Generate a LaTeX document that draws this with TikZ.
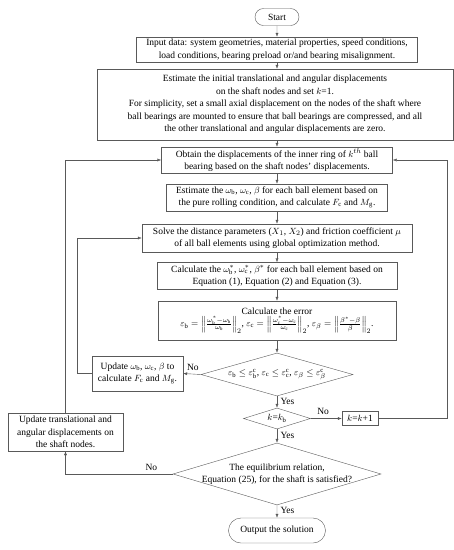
\documentclass[tikz,border=0pt]{standalone}
\usepackage{fontspec}
\setmainfont{Liberation Serif}
\usepackage{amsmath}
\usetikzlibrary{shapes.geometric,shapes.misc,arrows.meta}

\begin{document}
\begin{tikzpicture}[x=1pt, y=-1pt, font=\fontsize{9.5pt}{12.5pt}\selectfont, >={Latex[length=4pt,width=3pt]}]
  \tikzset{process box/.style={rectangle, draw=black!65, align=center, inner sep=0pt},
           terminal/.style={rounded rectangle, draw=black!65, inner sep=0pt},
           decision/.style={diamond, draw=black!65, inner sep=0pt, align=center},
           flow/.style={draw=black!65, ->}}
  \useasboundingbox (0,0) rectangle (454,550);

  % Main column
  \node[terminal, minimum width=44pt, minimum height=17pt] (start) at (277,17) {Start};
  \node[process box, minimum width=281pt, minimum height=25pt] (input) at (277,49.5)
    {Input data: system geometries, material properties, speed conditions,\\
     load conditions, bearing preload or/and bearing misalignment.};
  \node[process box, minimum width=356pt, minimum height=71pt] (init) at (275,104.5)
    {Estimate the initial translational and angular displacements\\
     on the shaft nodes and set $k$=1.\\
     For simplicity, set a small axial displacement on the nodes of the shaft where\\
     ball bearings are mounted to ensure that ball bearings are compressed, and all\\
     the other translational and angular displacements are zero.};
  \node[process box, minimum width=231pt, minimum height=26pt] (obtain) at (277,160)
    {Obtain the displacements of the inner ring of $k^{th}$ ball\\
     bearing based on the shaft nodes' displacements.};
  \node[process box, minimum width=221pt, minimum height=27pt] (guess) at (277,197.5)
    {Estimate the $\omega_{\mathrm{b}}$, $\omega_{\mathrm{c}}$, $\beta$ for each ball element based on\\
     the pure rolling condition, and calculate $F_{\mathrm{c}}$ and $M_{\mathrm{g}}$.};
  \node[process box, minimum width=270pt, minimum height=28pt] (solve) at (277,238)
    {Solve the distance parameters ($X_1$, $X_2$) and friction coefficient $\mu$\\
     of all ball elements using global optimization method.};
  \node[process box, minimum width=240pt, minimum height=27pt] (calc) at (277,276)
    {Calculate the $\omega_{\mathrm{b}}^{*}$, $\omega_{\mathrm{c}}^{*}$, $\beta^{*}$ for each ball element based on\\
     Equation (1), Equation (2) and Equation (3).};
  \node[process box, minimum width=238pt, minimum height=39pt] (error) at (277,320.5)
    {Calculate the error\\
     $\varepsilon_{\mathrm{b}}=\left\|\frac{\omega_{\mathrm{b}}^{*}-\omega_{\mathrm{b}}}{\omega_{\mathrm{b}}}\right\|_2$,
     $\varepsilon_{\mathrm{c}}=\left\|\frac{\omega_{\mathrm{c}}^{*}-\omega_{\mathrm{c}}}{\omega_{\mathrm{c}}}\right\|_2$,
     $\varepsilon_{\beta}=\left\|\frac{\beta^{*}-\beta}{\beta}\right\|_2$.};

  % Decisions
  \node[decision, minimum width=152pt, minimum height=43pt,
        label={center:$\varepsilon_{\mathrm{b}}\le\varepsilon_{\mathrm{b}}^{\mathrm{c}}$, $\varepsilon_{\mathrm{c}}\le\varepsilon_{\mathrm{c}}^{\mathrm{c}}$, $\varepsilon_{\beta}\le\varepsilon_{\beta}^{\mathrm{c}}$}] (conv) at (277,374.5) {};
  \node[decision, minimum width=67pt, minimum height=21pt,
        label={center:$k$=$k_{\mathrm{b}}$}] (kcheck) at (277,418.5) {};
  \node[decision, minimum width=208pt, minimum height=62pt,
        label={[align=center]center:The equilibrium relation,\\Equation (25), for the shaft is satisfied?}] (equil) at (277,474) {};
  \node[terminal, minimum width=97pt, minimum height=25pt] (output) at (277,530.5) {Output the solution};

  % Side boxes
  \node[process box, minimum width=91pt, minimum height=35pt] (updw) at (137.5,373.5)
    {Update $\omega_{\mathrm{b}}$, $\omega_{\mathrm{c}}$, $\beta$ to\\
     calculate $F_{\mathrm{c}}$ and $M_{\mathrm{g}}$.};
  \node[process box, minimum width=36pt, minimum height=14pt] (kinc) at (360,418.5) {$k$=$k$+1};
  \node[process box, minimum width=115pt, minimum height=38pt] (updt) at (65.5,432)
    {Update translational and\\angular displacements on\\the shaft nodes.};

  % Main arrows
  \draw[flow] (start) -- (input);
  \draw[flow] (input) -- (input |- init.north);
  \draw[flow] (obtain |- init.south) -- (obtain);
  \draw[flow] (obtain) -- (guess);
  \draw[flow] (guess) -- (solve);
  \draw[flow] (solve) -- (calc);
  \draw[flow] (calc) -- (error);
  \draw[flow] (error) -- (conv);
  \draw[flow] (conv) -- node[right, pos=0.45] {Yes} (kcheck);
  \draw[flow] (kcheck) -- node[right, pos=0.45] {Yes} (equil);
  \draw[flow] (equil) -- node[right, pos=0.4] {Yes} (output);

  % Loops
  \draw[flow] (conv.west) -- node[above, pos=0.45] {No} (updw.east);
  \draw[flow] (updw.west) -- ++(-15,0) |- (solve.west);
  \draw[flow] (kcheck.east) -- node[above, pos=0.4] {No} (kinc.west);
  \draw[flow] (kinc.east) -- ++(69,0) |- (obtain.east);
  \draw[flow] (equil.west) -| node[above, pos=0.1] {No} (updt.south);
  \draw[flow] (updt.north) |- (obtain.west);
\end{tikzpicture}
\end{document}
